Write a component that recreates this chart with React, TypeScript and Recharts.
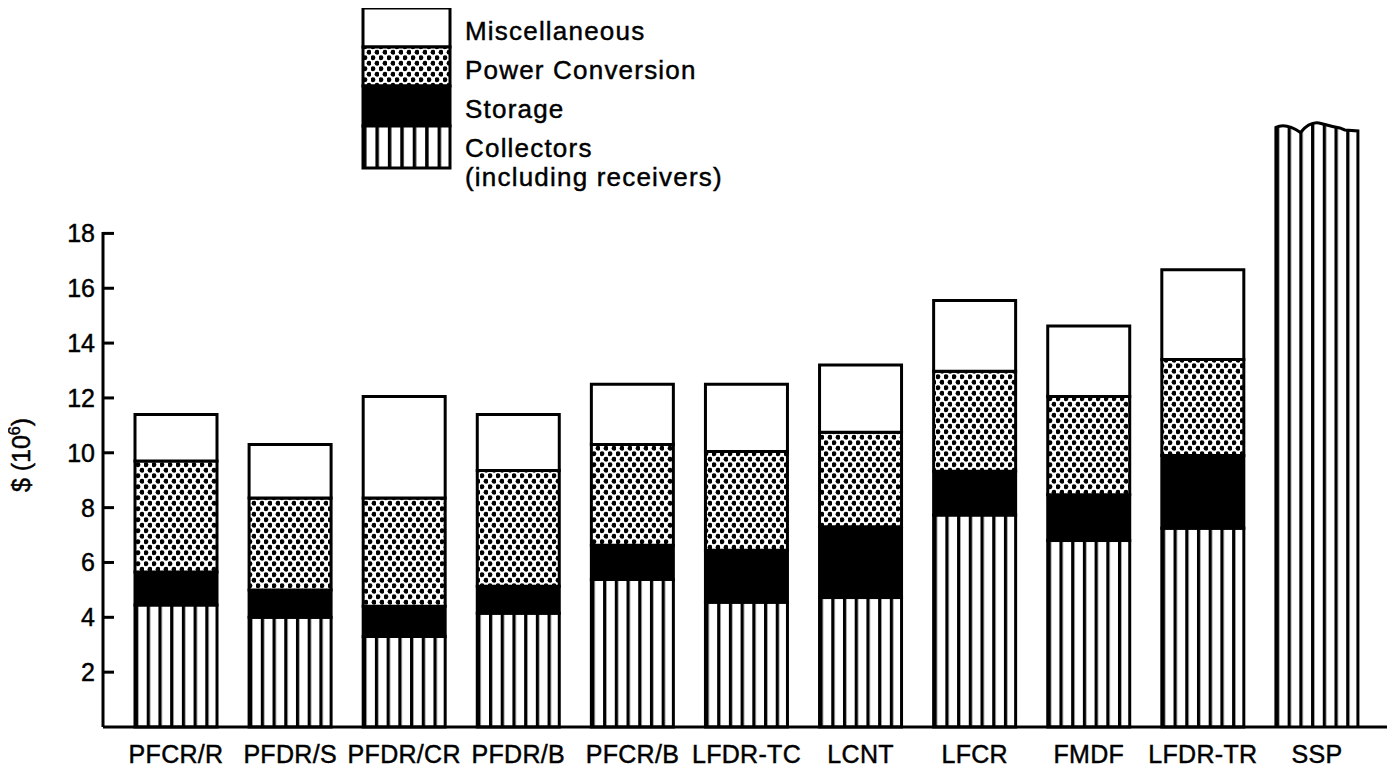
import React from "react";
import { BarChart, Bar, XAxis, YAxis, Legend } from "recharts";

const categories = ["PFCR/R", "PFDR/S", "PFDR/CR", "PFDR/B", "PFCR/B", "LFDR-TC", "LCNT", "LFCR", "FMDF", "LFDR-TR", "SSP"];
const collectors = [4.45, 4.0, 3.3, 4.15, 5.38, 4.55, 4.72, 7.73, 6.8, 7.25, 21.9];
const storage = [1.2, 1.0, 1.1, 0.98, 1.25, 1.9, 2.58, 1.6, 1.67, 2.65, 0];
const powerConversion = [4.05, 3.35, 3.95, 4.22, 3.67, 3.6, 3.45, 3.64, 3.58, 3.5, 0];
const miscellaneous = [1.7, 1.95, 3.7, 2.05, 2.2, 2.45, 2.45, 2.58, 2.57, 3.27, 0];
// bars drawn with a broken (wavy) top because they run off the scale
const brokenBars = ["SSP"];
const yTicks = [2, 4, 6, 8, 10, 12, 14, 16, 18];
const axisTop = 18;

const legendItems = [
  { label: "Miscellaneous", fill: "#fff" },
  { label: "Power Conversion", fill: "url(#dots)" },
  { label: "Storage", fill: "#000" },
  { label: "Collectors", fill: "url(#stripes)", sub: "(including receivers)" },
];

const data = categories.map((name, i) => ({
  name,
  collectors: collectors[i],
  storage: storage[i],
  power: powerConversion[i],
  misc: miscellaneous[i],
}));

const FONT = "'Liberation Sans', Arial, Helvetica, sans-serif";
const AXIS_X = 103;
const PLOT_BOTTOM = 727;
const txt = { fontFamily: FONT, fill: "#000", stroke: "#000", strokeWidth: 0.45 };

const Patterns = () => (
  <defs>
    <pattern id="stripes" patternUnits="objectBoundingBox" width={1 / 7} height={1} patternContentUnits="objectBoundingBox">
      <rect x={0} y={0} width={1 / 7} height={1} fill="#fff" />
      <rect x={0} y={0} width={0.04} height={1} fill="#000" />
    </pattern>
    <pattern id="dots" patternUnits="userSpaceOnUse" width={8} height={11}>
      <rect x={0} y={0} width={8} height={11} fill="#fff" />
      <circle cx={2} cy={2.75} r={2.4} fill="#000" />
      <circle cx={6} cy={8.25} r={2.4} fill="#000" />
    </pattern>
  </defs>
);

const LegendBox = () => (
  <svg width={400} height={200} style={{ display: "block" }}>
    <Patterns />
    <rect x={8} y={8} width={87} height={39} fill="#fff" stroke="#000" strokeWidth={3} />
    <rect x={8} y={47} width={87} height={39} fill="url(#dots)" stroke="#000" strokeWidth={3} />
    <rect x={8} y={86} width={87} height={40} fill="#000" stroke="#000" strokeWidth={3} />
    <rect x={8} y={126} width={87} height={42} fill="url(#stripes)" stroke="#000" strokeWidth={3} />
    {legendItems.map((it, i) => (
      <text key={it.label} x={110} y={40 + i * 39} fontSize={26} letterSpacing={1.2} {...txt}>
        {it.label}
      </text>
    ))}
    <text x={110} y={186} fontSize={26} letterSpacing={1.2} {...txt}>
      {legendItems[3].sub}
    </text>
  </svg>
);

const CollectorShape = (props: any) => {
  const { x, y, width: w, height: h, payload } = props;
  if (!h || h <= 0) return null;
  if (brokenBars.includes(payload.name)) {
    const b = y + h;
    const d = `M${x},${b} L${x},${y + 1} Q${x + 0.12 * w},${y - 4} ${x + 0.3 * w},${y + 6}
      Q${x + 0.42 * w},${y - 6} ${x + 0.55 * w},${y - 3} Q${x + 0.68 * w},${y} ${x + 0.78 * w},${y + 1.5}
      L${x + 0.84 * w},${y + 3.5} L${x + w},${y + 4.5} L${x + w},${b}`;
    return <path d={d} fill="url(#stripes)" stroke="#000" strokeWidth={3} />;
  }
  return <rect x={x} y={y} width={w} height={h} fill="url(#stripes)" stroke="#000" strokeWidth={3} />;
};

const YTick = (props: any) => {
  const { y, payload } = props;
  return (
    <g>
      <text x={AXIS_X - 8} y={y} dy="0.36em" textAnchor="end" fontSize={25} {...txt}>
        {payload.value}
      </text>
      <line x1={AXIS_X} x2={AXIS_X + 11} y1={y} y2={y} stroke="#000" strokeWidth={3} />
      {payload.value === axisTop && (
        <line x1={AXIS_X} x2={AXIS_X} y1={y - 1.5} y2={PLOT_BOTTOM} stroke="#000" strokeWidth={3} />
      )}
    </g>
  );
};

const XTick = (props: any) => {
  const { x, payload } = props;
  return (
    <text x={x} y={763} textAnchor="middle" fontSize={25} letterSpacing={0.3} {...txt}>
      {payload.value}
    </text>
  );
};

const YLabel = () => (
  <text transform="translate(30,455) rotate(-90)" textAnchor="middle" fontSize={25} {...txt}>
    $ (10
    <tspan dy={-10} fontSize={16}>6</tspan>
    <tspan dy={10}>)</tspan>
  </text>
);

export default function App() {
  return (
    <div style={{ margin: -8, width: 1395, height: 776, position: "relative", background: "#fff" }}>
      <BarChart width={1395} height={776} data={data} margin={{ top: 110, right: 5, left: 0, bottom: 0 }} barSize={82}>
        <Legend
          layout="vertical"
          align="center"
          verticalAlign="middle"
          wrapperStyle={{ position: "absolute", left: 355, top: 0, width: 400, height: 200 }}
          content={() => <LegendBox />}
        />
        <XAxis
          dataKey="name"
          height={49}
          padding={{ left: 16, right: 16 }}
          axisLine={{ stroke: "#000", strokeWidth: 3 }}
          tickLine={false}
          tick={<XTick />}
          interval={0}
        />
        <YAxis
          width={103}
          domain={[0, 22.5]}
          ticks={yTicks}
          axisLine={false}
          tickLine={false}
          tick={<YTick />}
          label={{ content: () => <YLabel /> }}
        />
        <Bar dataKey="collectors" stackId="a" shape={<CollectorShape />} isAnimationActive={false} />
        <Bar dataKey="storage" stackId="a" fill="#000" stroke="#000" strokeWidth={3} isAnimationActive={false} />
        <Bar dataKey="power" stackId="a" fill="url(#dots)" stroke="#000" strokeWidth={3} isAnimationActive={false} />
        <Bar dataKey="misc" stackId="a" fill="#fff" stroke="#000" strokeWidth={3} isAnimationActive={false} />
      </BarChart>
    </div>
  );
}
